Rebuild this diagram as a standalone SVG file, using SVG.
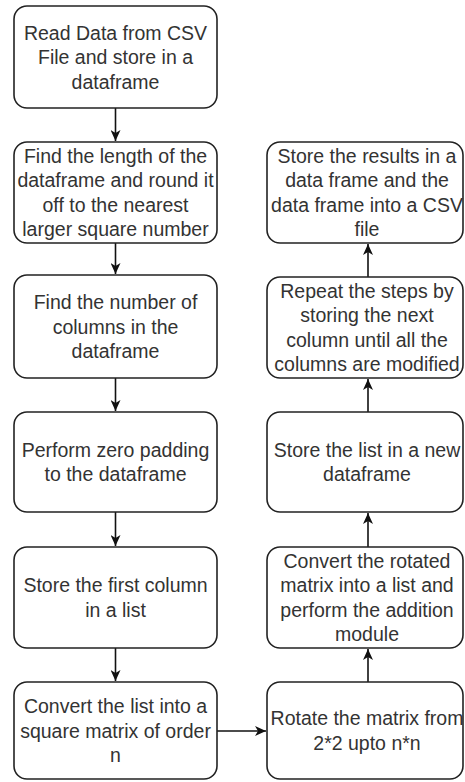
<svg xmlns="http://www.w3.org/2000/svg" width="465" height="782" viewBox="0 0 465 782">
<defs>
<style>
.box{fill:#fff;stroke:#222;stroke-width:1.6}
.t{font-family:"Liberation Sans",Arial,sans-serif;font-size:19.5px;fill:#333;text-anchor:middle}
.c{stroke:#111;stroke-width:1.6;fill:none}
</style>
<marker id="ah" markerWidth="12" markerHeight="10" refX="11" refY="5" orient="auto" markerUnits="userSpaceOnUse">
<path d="M0,0 L11,5 L0,10 L3,5 Z" fill="#111"/>
</marker>
</defs>
<rect width="465" height="782" fill="#fff"/>
<g id="connectors">
<line class="c" x1="115.5" y1="108" x2="115.5" y2="141" marker-end="url(#ah)"/>
<line class="c" x1="115.5" y1="243" x2="115.5" y2="274" marker-end="url(#ah)"/>
<line class="c" x1="115.5" y1="378" x2="115.5" y2="411" marker-end="url(#ah)"/>
<line class="c" x1="115.5" y1="512" x2="115.5" y2="546" marker-end="url(#ah)"/>
<line class="c" x1="115.5" y1="648" x2="115.5" y2="681" marker-end="url(#ah)"/>
<line class="c" x1="217" y1="731" x2="266" y2="731" marker-end="url(#ah)"/>
<line class="c" x1="368" y1="682" x2="368" y2="649" marker-end="url(#ah)"/>
<line class="c" x1="368" y1="547" x2="368" y2="513" marker-end="url(#ah)"/>
<line class="c" x1="368" y1="412" x2="368" y2="379" marker-end="url(#ah)"/>
<line class="c" x1="368" y1="277" x2="368" y2="244" marker-end="url(#ah)"/>
</g>
<g id="n1"><rect class="box" x="14" y="6" width="203" height="102" rx="13"/>
<text class="t" x="115.5" y="39.5">Read Data from CSV</text><text class="t" x="115.5" y="64">File and store in a</text><text class="t" x="115.5" y="88.5">dataframe</text></g>
<g id="n2"><rect class="box" x="14" y="142" width="203" height="101" rx="13"/>
<text class="t" x="115.5" y="162.75">Find the length of the</text><text class="t" x="115.5" y="187.25">dataframe and round it</text><text class="t" x="115.5" y="211.75">off to the nearest</text><text class="t" x="115.5" y="236.25">larger square number</text></g>
<g id="n3"><rect class="box" x="14" y="275" width="203" height="103" rx="13"/>
<text class="t" x="115.5" y="309">Find the number of</text><text class="t" x="115.5" y="333.5">columns in the</text><text class="t" x="115.5" y="358">dataframe</text></g>
<g id="n4"><rect class="box" x="14" y="412" width="203" height="100" rx="13"/>
<text class="t" x="115.5" y="456.75">Perform zero padding</text><text class="t" x="115.5" y="481.25">to the dataframe</text></g>
<g id="n5"><rect class="box" x="14" y="547" width="203" height="101" rx="13"/>
<text class="t" x="115.5" y="592.25">Store the first column</text><text class="t" x="115.5" y="616.75">in a list</text></g>
<g id="n6"><rect class="box" x="14" y="682" width="203" height="97" rx="13"/>
<text class="t" x="115.5" y="713">Convert the list into a</text><text class="t" x="115.5" y="737.5">square matrix of order</text><text class="t" x="115.5" y="762">n</text></g>
<g id="r1"><rect class="box" x="267" y="142" width="196" height="101" rx="13"/>
<text class="t" x="367" y="162.75">Store the results in a</text><text class="t" x="367" y="187.25">data frame and the</text><text class="t" x="367" y="211.75">data frame into a CSV</text><text class="t" x="367" y="236.25">file</text></g>
<g id="r2"><rect class="box" x="267" y="277" width="196" height="101" rx="13"/>
<text class="t" x="367" y="297.75">Repeat the steps by</text><text class="t" x="367" y="322.25">storing the next</text><text class="t" x="367" y="346.75">column until all the</text><text class="t" x="367" y="371.25">columns are modified</text></g>
<g id="r3"><rect class="box" x="267" y="412" width="196" height="100" rx="13"/>
<text class="t" x="367" y="456.75">Store the list in a new</text><text class="t" x="367" y="481.25">dataframe</text></g>
<g id="r4"><rect class="box" x="267" y="547" width="196" height="101" rx="13"/>
<text class="t" x="367" y="567.75">Convert the rotated</text><text class="t" x="367" y="592.25">matrix into a list and</text><text class="t" x="367" y="616.75">perform the addition</text><text class="t" x="367" y="641.25">module</text></g>
<g id="r5"><rect class="box" x="267" y="682" width="196" height="97" rx="13"/>
<text class="t" x="367" y="725.25">Rotate the matrix from</text><text class="t" x="367" y="749.75">2*2 upto n*n</text></g>
</svg>
